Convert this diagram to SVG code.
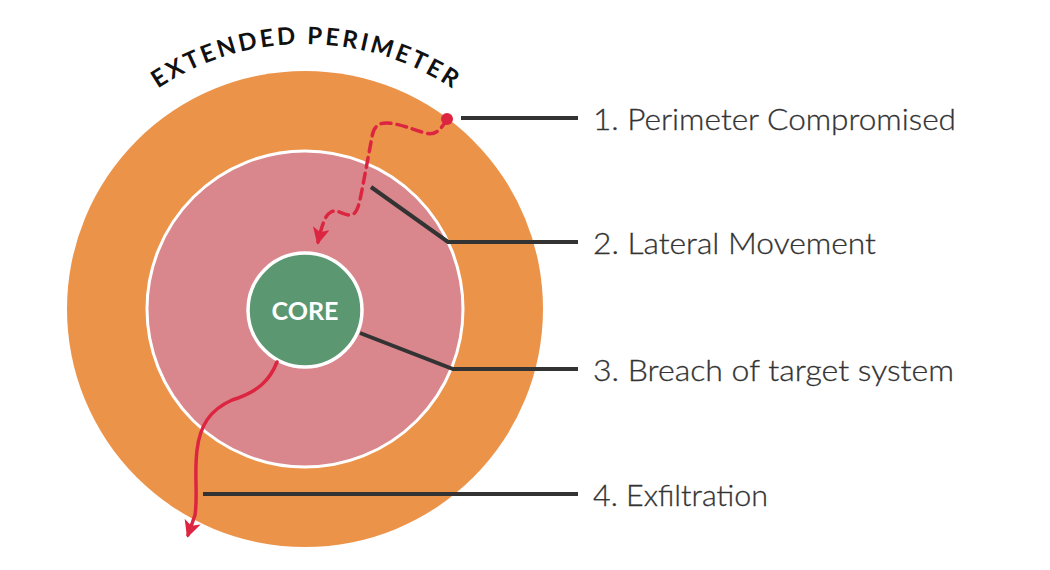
<svg xmlns="http://www.w3.org/2000/svg" width="1050" height="570" viewBox="0 0 1050 570">
  <style>
    .lbl { font-family: Lato, "Liberation Sans", sans-serif; font-weight: 300; font-size: 29px; fill: #333333; stroke: #333333; stroke-width: 0.3; }
    .lead { fill: none; stroke: #333333; stroke-width: 4; stroke-linejoin: miter; }
    .attack { fill: none; stroke: #dc2641; stroke-width: 3.5; stroke-linecap: round; }
    .arc { font-family: Lato, "Liberation Sans", sans-serif; font-weight: 700; font-size: 24px; fill: #111111; }
    .core { font-family: Lato, "Liberation Sans", sans-serif; font-weight: 700; font-size: 25px; fill: #ffffff; }
  </style>
  <defs>
    <marker id="arr" viewBox="0 0 12 12" refX="10" refY="6" markerWidth="17" markerHeight="17" orient="auto" markerUnits="userSpaceOnUse">
      <path d="M0,0 L12,6 L0,12 L3,6 Z" fill="#dc2641"/>
    </marker>
    <path id="arcPath" d="M 40,309 A 265 265 0 0 1 570,309"/>
  </defs>
  <rect width="1050" height="570" fill="#ffffff"/>

  <g id="extended-perimeter">
    <circle cx="305" cy="309" r="238" fill="#ec934a"/>
    <text class="arc"><textPath href="#arcPath" startOffset="50%" text-anchor="middle" textLength="312" lengthAdjust="spacing">EXTENDED PERIMETER</textPath></text>
  </g>
  <g id="internal-network">
    <circle cx="305" cy="309" r="158" fill="#d9878c" stroke="#ffffff" stroke-width="3"/>
  </g>
  <g id="core">
    <circle cx="305" cy="310" r="57" fill="#5b9770" stroke="#ffffff" stroke-width="3.5"/>
    <text class="core" x="305" y="320" text-anchor="middle" textLength="67" lengthAdjust="spacingAndGlyphs">CORE</text>
  </g>

  <g id="connectors">
    <path class="attack" stroke-dasharray="10 6" d="M447,119 C441,130 435,136 425,133 C412,129 400,124 388,123 C378,122 373,128 372,137 L362,190 C359,205 357,215 350,215 C343,215 338,209 331,212 C325,215 322,225 318,242" marker-end="url(#arr)"/>
    <circle cx="447" cy="119" r="6" fill="#dc2641"/>
    <path class="attack" d="M277,362 C270,380 258,392 232,400 C210,410 200,425 197,450 C194,475 198,495 195,515 L188,535" marker-end="url(#arr)"/>
    <path class="lead" d="M461,118 L578,118"/>
    <path class="lead" d="M371,187 L448,242 L578,242"/>
    <path class="lead" d="M360,333 L453,369 L578,369"/>
    <path class="lead" d="M203,494 L578,494"/>
  </g>

  <g id="label-1"><text class="lbl" x="593" y="130" textLength="363" lengthAdjust="spacingAndGlyphs">1. Perimeter Compromised</text></g>
  <g id="label-2"><text class="lbl" x="593" y="254" textLength="283" lengthAdjust="spacingAndGlyphs">2. Lateral Movement</text></g>
  <g id="label-3"><text class="lbl" x="593" y="381" textLength="361" lengthAdjust="spacingAndGlyphs">3. Breach of target system</text></g>
  <g id="label-4"><text class="lbl" x="593" y="506" textLength="175" lengthAdjust="spacingAndGlyphs">4. Exfiltration</text></g>
</svg>
